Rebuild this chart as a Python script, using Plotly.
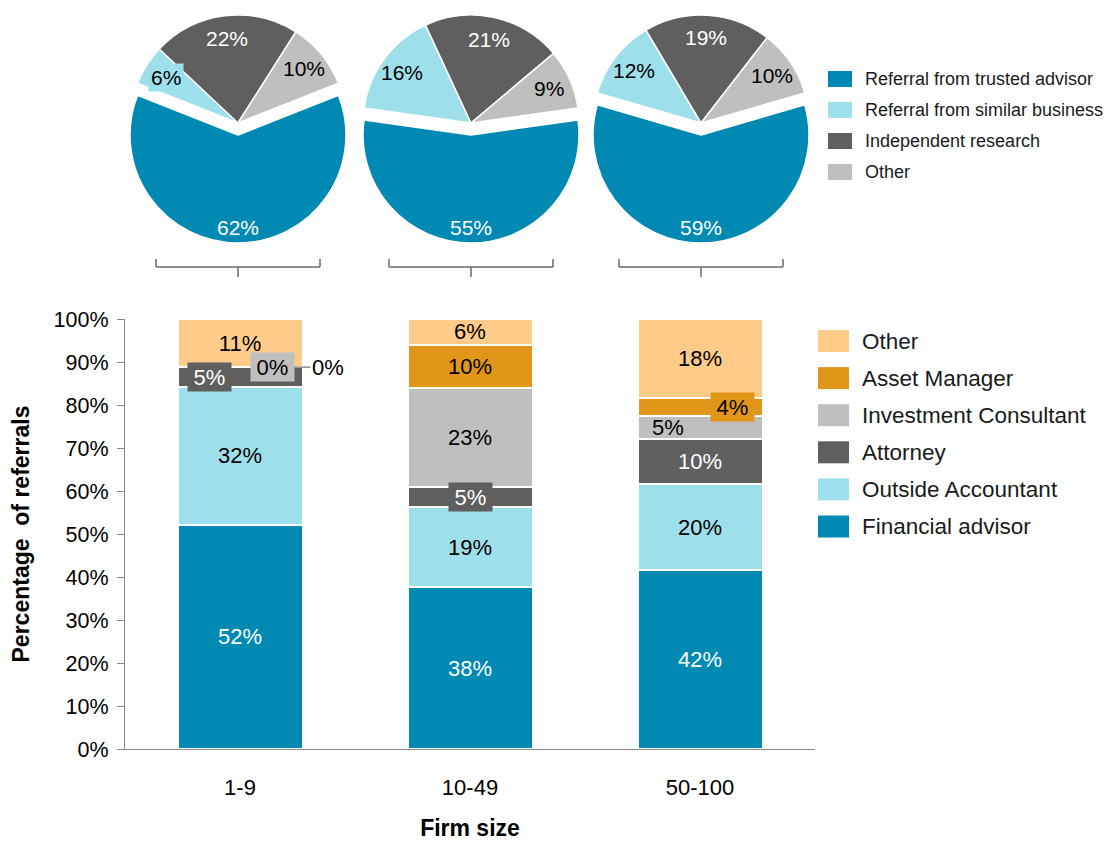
import math
import plotly.graph_objects as go

W, H = 1110, 841
FONT = "Liberation Sans, Arial, sans-serif"

# ---------------- data ----------------
firm_sizes = ["1-9", "10-49", "50-100"]

bar_series = ["Financial advisor", "Outside Accountant", "Attorney",
              "Investment Consultant", "Asset Manager", "Other"]
financial_advisor = [52.1, 37.6, 41.6]
outside_accountant = [32.1, 18.7, 20.0]
attorney = [4.6, 4.6, 10.5]
investment_consultant = [0.0, 23.1, 5.3]
asset_manager = [0.0, 10.0, 4.2]
other = [11.2, 6.0, 18.4]
bar_values = [financial_advisor, outside_accountant, attorney,
              investment_consultant, asset_manager, other]
bar_colors = ["#0089B3", "#9EDFEC", "#5F5F5F", "#BFBFBF", "#E1961A", "#FFCB88"]
bar_text_colors = ["white", "black", "white", "black", "black", "black"]

pie_labels = ["Referral from trusted advisor", "Referral from similar business",
              "Independent research", "Other"]
pie_1_9 = [62, 6, 22, 10]
pie_10_49 = [55, 16, 21, 9]
pie_50_100 = [59, 12, 19, 10]
pie_values = [pie_1_9, pie_10_49, pie_50_100]
pie_colors = ["#0089B3", "#9EDFEC", "#5F5F5F", "#BFBFBF"]
pie_text_colors = ["white", "black", "white", "black"]

# ---------------- geometry (pixels) ----------------
PIE_CX = [238, 471, 701]
PIE_CY = 123
PIE_R = 108
PULL = 0.111
BAR_X0, BAR_X1 = 125, 815
BAR_Y0, BAR_Y1 = 749, 319  # pixel y of 0% and 100%
LABEL_SIZE = 22


def px(x):
    return x / W


def py(y):
    return 1 - y / H


fig = go.Figure()

# ---------------- pies ----------------
annotations = []
shapes = []
for k, vals in enumerate(pie_values):
    cx = PIE_CX[k]
    half = PIE_R * (1 + PULL)
    total = sum(vals)
    rot = 180 - vals[0] / total * 180
    fig.add_trace(go.Pie(
        labels=pie_labels, values=vals, sort=False, direction="clockwise",
        rotation=rot, pull=[PULL, 0, 0, 0],
        marker=dict(colors=pie_colors, line=dict(color="white", width=1.5)),
        textinfo="none", hoverinfo="label+percent", showlegend=False,
        domain=dict(x=[px(cx - half), px(cx + half)],
                    y=[py(PIE_CY + half), py(PIE_CY - half)]),
    ))
    # labels (inside end)
    a0 = rot
    for i, v in enumerate(vals):
        a1 = a0 + v / total * 360
        mid = math.radians((a0 + a1) / 2)
        if i == 0:
            rl = PIE_R * (PULL + 0.86)
        else:
            rl = PIE_R * 0.79
        lx = cx + rl * math.sin(mid)
        ly = PIE_CY - rl * math.cos(mid)
        ann = dict(x=px(lx), y=py(ly), xref="paper", yref="paper",
                   xanchor="center", yanchor="middle",
                   text=f"{v}%", showarrow=False,
                   font=dict(family=FONT, size=21, color=pie_text_colors[i]))
        if v < 8:
            ann.update(bgcolor=pie_colors[i], borderpad=2)
        annotations.append(ann)
        a0 = a1
    # bracket under the pie
    bw, by = 82, 267
    line = dict(color="#6A6A6A", width=1.5)
    shapes += [
        dict(type="line", xref="paper", yref="paper", x0=px(cx - bw), x1=px(cx + bw),
             y0=py(by), y1=py(by), line=line),
        dict(type="line", xref="paper", yref="paper", x0=px(cx - bw), x1=px(cx - bw),
             y0=py(by - 8), y1=py(by), line=line),
        dict(type="line", xref="paper", yref="paper", x0=px(cx + bw), x1=px(cx + bw),
             y0=py(by - 8), y1=py(by), line=line),
        dict(type="line", xref="paper", yref="paper", x0=px(cx), x1=px(cx),
             y0=py(by), y1=py(by + 10), line=line),
    ]

# ---------------- bars ----------------
# labels drawn separately (offset / boxed) : (series, category) -> (xshift, box)
specials = {(2, 0): (-31, True), (3, 0): (32, True), (4, 0): None,
            (2, 1): (0, True), (4, 2): (32, True), (3, 2): (-32, False)}

cum = [0.0] * len(firm_sizes)
for s, (name, vals) in enumerate(zip(bar_series, bar_values)):
    texts = []
    for c, v in enumerate(vals):
        label = f"{round(v)}%"
        mid = cum[c] + v / 2
        if (s, c) in specials:
            texts.append("")
            spec = specials[(s, c)]
            if spec is None:
                annotations.append(dict(
                    x=firm_sizes[c], y=mid, xref="x", yref="y", text=label,
                    showarrow=True, arrowhead=0, arrowwidth=1.3, arrowcolor="#777777",
                    ax=34, ay=0, xshift=54,
                    font=dict(family=FONT, size=LABEL_SIZE, color="black")))
            else:
                xs, box = spec
                ann = dict(x=firm_sizes[c], y=mid, xref="x", yref="y", text=label,
                           showarrow=False, xshift=xs,
                           xanchor="center", yanchor="middle",
                           font=dict(family=FONT, size=LABEL_SIZE, color=bar_text_colors[s]))
                if box:
                    ann.update(bgcolor=bar_colors[s], width=37, height=22, borderpad=3)
                annotations.append(ann)
        else:
            texts.append(label)
        cum[c] += v
    fig.add_trace(go.Bar(
        x=firm_sizes, y=vals, name=name, text=texts,
        textposition="inside", insidetextanchor="middle", textangle=0,
        textfont=dict(family=FONT, size=LABEL_SIZE, color=bar_text_colors[s]),
        marker=dict(color=bar_colors[s], line=dict(color="white", width=2)),
        showlegend=False, hovertemplate=name + ": %{y:.0f}%<extra></extra>",
    ))

# ---------------- legends (drawn) ----------------
for i, lab in enumerate(pie_labels):
    yc = 79 + 31 * i
    shapes.append(dict(type="rect", xref="paper", yref="paper",
                       x0=px(828), x1=px(852), y0=py(yc + 8), y1=py(yc - 8),
                       fillcolor=pie_colors[i], line=dict(width=0)))
    annotations.append(dict(x=px(863), y=py(yc), xref="paper", yref="paper",
                            xanchor="left", yanchor="middle", text=lab, showarrow=False,
                            font=dict(family=FONT, size=18, color="#1a1a1a")))

for j, s in enumerate(reversed(range(len(bar_series)))):
    yc = 341 + 37.1 * j
    shapes.append(dict(type="rect", xref="paper", yref="paper",
                       x0=px(818), x1=px(849), y0=py(yc + 11), y1=py(yc - 11),
                       fillcolor=bar_colors[s], line=dict(width=0)))
    annotations.append(dict(x=px(860), y=py(yc), xref="paper", yref="paper",
                            xanchor="left", yanchor="middle", text=bar_series[s],
                            showarrow=False,
                            font=dict(family=FONT, size=22.5, color="#1a1a1a")))

fig.update_layout(
    width=W, height=H, margin=dict(l=0, r=0, t=0, b=0),
    paper_bgcolor="white", plot_bgcolor="white",
    barmode="stack", bargap=1 - 125 / 230,
    font=dict(family=FONT, size=20, color="black"),
    uniformtext=dict(minsize=LABEL_SIZE, mode="show"),
    xaxis=dict(domain=[px(BAR_X0), px(BAR_X1)], type="category", range=[-0.5, 2.5],
               showline=True, linecolor="#888888", linewidth=1.3, ticks="",
               showgrid=False, zeroline=False, automargin=False,
               tickfont=dict(family=FONT, size=22, color="black"),
               ticklabelstandoff=18,
               title=dict(text="<b>Firm size</b>", standoff=24,
                          font=dict(family=FONT, size=23, color="black"))),
    yaxis=dict(domain=[py(BAR_Y0), py(BAR_Y1)], range=[0, 100], dtick=10,
               ticksuffix="%", showline=True, linecolor="#888888", linewidth=1.3,
               ticks="outside", ticklen=7, tickcolor="#888888", tickwidth=1.3,
               showgrid=False, zeroline=False, automargin=False,
               tickfont=dict(family=FONT, size=21.5, color="black"),
               ticklabelstandoff=4,
               title=dict(text="<b>Percentage  of referrals</b>", standoff=17,
                          font=dict(family=FONT, size=23, color="black"))),
    annotations=annotations, shapes=shapes,
)

fig.write_html("out.html",
               config={"displayModeBar": False},
               post_script="document.body.style.margin='0';"
                           "document.body.style.overflow='hidden';")
